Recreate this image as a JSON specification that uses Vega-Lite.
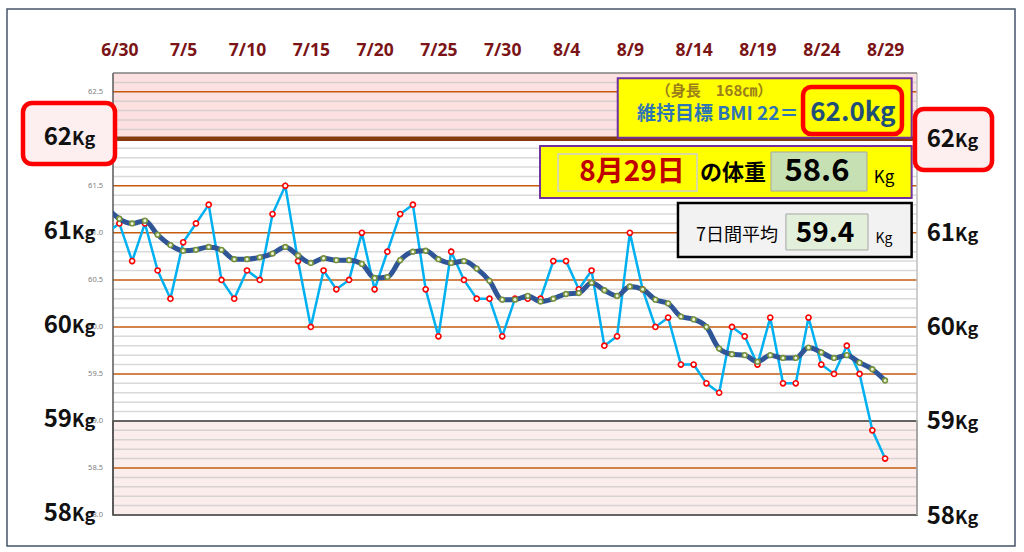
{
  "$schema": "https://vega.github.io/schema/vega-lite/v6.json",
  "width": 804,
  "height": 442,
  "autosize": "none",
  "padding": {"left": 113, "top": 73, "right": 107, "bottom": 37},
  "background": "white",
  "config": {"view": {"stroke": null}, "font": "Noto Sans CJK JP", "axisY": {"disable": true}, "axis": {"labelOverlap": false, "labelFlush": false}},
  "datasets": {
    "w": [
      {"day": -1, "date": "6/29", "weight": 61.0, "ma": 61.27},
      {"day": 0, "date": "6/30", "weight": 61.1, "ma": 61.15},
      {"day": 1, "date": "7/1", "weight": 60.7, "ma": 61.10},
      {"day": 2, "date": "7/2", "weight": 61.1, "ma": 61.13},
      {"day": 3, "date": "7/3", "weight": 60.6, "ma": 60.98},
      {"day": 4, "date": "7/4", "weight": 60.3, "ma": 60.87},
      {"day": 5, "date": "7/5", "weight": 60.9, "ma": 60.81},
      {"day": 6, "date": "7/6", "weight": 61.1, "ma": 60.82},
      {"day": 7, "date": "7/7", "weight": 61.3, "ma": 60.85},
      {"day": 8, "date": "7/8", "weight": 60.5, "ma": 60.82},
      {"day": 9, "date": "7/9", "weight": 60.3, "ma": 60.72},
      {"day": 10, "date": "7/10", "weight": 60.6, "ma": 60.72},
      {"day": 11, "date": "7/11", "weight": 60.5, "ma": 60.74},
      {"day": 12, "date": "7/12", "weight": 61.2, "ma": 60.78},
      {"day": 13, "date": "7/13", "weight": 61.5, "ma": 60.85},
      {"day": 14, "date": "7/14", "weight": 60.7, "ma": 60.76},
      {"day": 15, "date": "7/15", "weight": 60.0, "ma": 60.68},
      {"day": 16, "date": "7/16", "weight": 60.6, "ma": 60.73},
      {"day": 17, "date": "7/17", "weight": 60.4, "ma": 60.71},
      {"day": 18, "date": "7/18", "weight": 60.5, "ma": 60.71},
      {"day": 19, "date": "7/19", "weight": 61.0, "ma": 60.67},
      {"day": 20, "date": "7/20", "weight": 60.4, "ma": 60.52},
      {"day": 21, "date": "7/21", "weight": 60.8, "ma": 60.53},
      {"day": 22, "date": "7/22", "weight": 61.2, "ma": 60.71},
      {"day": 23, "date": "7/23", "weight": 61.3, "ma": 60.80},
      {"day": 24, "date": "7/24", "weight": 60.4, "ma": 60.81},
      {"day": 25, "date": "7/25", "weight": 59.9, "ma": 60.72},
      {"day": 26, "date": "7/26", "weight": 60.8, "ma": 60.68},
      {"day": 27, "date": "7/27", "weight": 60.5, "ma": 60.70},
      {"day": 28, "date": "7/28", "weight": 60.3, "ma": 60.62},
      {"day": 29, "date": "7/29", "weight": 60.3, "ma": 60.49},
      {"day": 30, "date": "7/30", "weight": 59.9, "ma": 60.29},
      {"day": 31, "date": "7/31", "weight": 60.3, "ma": 60.29},
      {"day": 32, "date": "8/1", "weight": 60.3, "ma": 60.33},
      {"day": 33, "date": "8/2", "weight": 60.3, "ma": 60.27},
      {"day": 34, "date": "8/3", "weight": 60.7, "ma": 60.30},
      {"day": 35, "date": "8/4", "weight": 60.7, "ma": 60.35},
      {"day": 36, "date": "8/5", "weight": 60.4, "ma": 60.36},
      {"day": 37, "date": "8/6", "weight": 60.6, "ma": 60.47},
      {"day": 38, "date": "8/7", "weight": 59.8, "ma": 60.39},
      {"day": 39, "date": "8/8", "weight": 59.9, "ma": 60.33},
      {"day": 40, "date": "8/9", "weight": 61.0, "ma": 60.43},
      {"day": 41, "date": "8/10", "weight": 60.4, "ma": 60.40},
      {"day": 42, "date": "8/11", "weight": 60.0, "ma": 60.29},
      {"day": 43, "date": "8/12", "weight": 60.1, "ma": 60.25},
      {"day": 44, "date": "8/13", "weight": 59.6, "ma": 60.11},
      {"day": 45, "date": "8/14", "weight": 59.6, "ma": 60.08},
      {"day": 46, "date": "8/15", "weight": 59.4, "ma": 60.00},
      {"day": 47, "date": "8/16", "weight": 59.3, "ma": 59.77},
      {"day": 48, "date": "8/17", "weight": 60.0, "ma": 59.71},
      {"day": 49, "date": "8/18", "weight": 59.9, "ma": 59.70},
      {"day": 50, "date": "8/19", "weight": 59.6, "ma": 59.63},
      {"day": 51, "date": "8/20", "weight": 60.1, "ma": 59.70},
      {"day": 52, "date": "8/21", "weight": 59.4, "ma": 59.67},
      {"day": 53, "date": "8/22", "weight": 59.4, "ma": 59.67},
      {"day": 54, "date": "8/23", "weight": 60.1, "ma": 59.78},
      {"day": 55, "date": "8/24", "weight": 59.6, "ma": 59.73},
      {"day": 56, "date": "8/25", "weight": 59.5, "ma": 59.67},
      {"day": 57, "date": "8/26", "weight": 59.8, "ma": 59.70},
      {"day": 58, "date": "8/27", "weight": 59.5, "ma": 59.62},
      {"day": 59, "date": "8/28", "weight": 58.9, "ma": 59.55},
      {"day": 60, "date": "8/29", "weight": 58.6, "ma": 59.43}
    ],
    "minor": [
      {"v": 58.1}, {"v": 58.2}, {"v": 58.3}, {"v": 58.4}, {"v": 58.6}, {"v": 58.7}, {"v": 58.8}, {"v": 58.9},
      {"v": 59.1}, {"v": 59.2}, {"v": 59.3}, {"v": 59.4}, {"v": 59.6}, {"v": 59.7}, {"v": 59.8}, {"v": 59.9},
      {"v": 60.1}, {"v": 60.2}, {"v": 60.3}, {"v": 60.4}, {"v": 60.6}, {"v": 60.7}, {"v": 60.8}, {"v": 60.9},
      {"v": 61.1}, {"v": 61.2}, {"v": 61.3}, {"v": 61.4}, {"v": 61.6}, {"v": 61.7}, {"v": 61.8}, {"v": 61.9},
      {"v": 62.1}, {"v": 62.2}, {"v": 62.3}, {"v": 62.4}, {"v": 62.6}
    ],
    "major": [
      {"v": 58.5}, {"v": 59.5}, {"v": 60.0}, {"v": 60.5}, {"v": 61.0}, {"v": 61.5}, {"v": 62.5}
    ],
    "ticklabels": [
      {"t": "62.5", "v": 62.5}, {"t": "61.5", "v": 61.5}, {"t": "61.0", "v": 61.0},
      {"t": "60.5", "v": 60.5}, {"t": "60.0", "v": 60.0}, {"t": "59.5", "v": 59.5}, {"t": "59.0", "v": 59.0},
      {"t": "58.5", "v": 58.5}, {"t": "58.0", "v": 58.0}
    ],
    "kg": [
      {"n": "62", "v": 62}, {"n": "61", "v": 61}, {"n": "60", "v": 60}, {"n": "59", "v": 59}, {"n": "58", "v": 58}
    ]
  },
  "layer": [
    {
      "data": {"values": [{"x1": -8.806, "x2": 70.18, "y1": 57.67, "y2": 63.381}]},
      "mark": {"type": "rect", "fillOpacity": 0, "stroke": "#44546A", "strokeWidth": 1.5},
      "encoding": {
        "x": {"field": "x1", "type": "quantitative", "scale": {"domain": [-0.5, 62.5], "nice": false, "zero": false},
          "axis": {"orient": "top", "title": null, "values": [0, 5, 10, 15, 20, 25, 30, 35, 40, 45, 50, 55, 60],
            "labelExpr": "['6/30','7/5','7/10','7/15','7/20','7/25','7/30','8/4','8/9','8/14','8/19','8/24','8/29'][round(datum.value/5)]",
            "ticks": false, "domain": false, "grid": false, "labelPadding": 14, "labelFont": "Noto Sans", "labelFontSize": 17.5,
            "labelFontWeight": "bold", "labelColor": "#7B1416", "labelFlush": false, "labelOverlap": false}},
        "x2": {"field": "x2"},
        "y": {"field": "y1", "type": "quantitative", "scale": {"domain": [58, 62.7], "nice": false, "zero": false}, "axis": null},
        "y2": {"field": "y2"}
      }
    },
    {
      "data": {"values": [{"x1": -0.5, "x2": 62.5, "y1": 62, "y2": 62.7}]},
      "mark": {"type": "rect", "fill": "#FDE1E1"},
      "encoding": {
        "x": {"field": "x1", "type": "quantitative"}, "x2": {"field": "x2"},
        "y": {"field": "y1", "type": "quantitative"}, "y2": {"field": "y2"}
      }
    },
    {
      "data": {"values": [{"x1": -0.5, "x2": 62.5, "y1": 58, "y2": 59}]},
      "mark": {"type": "rect", "fill": "#FCEDED"},
      "encoding": {
        "x": {"field": "x1", "type": "quantitative"}, "x2": {"field": "x2"},
        "y": {"field": "y1", "type": "quantitative"}, "y2": {"field": "y2"}
      }
    },
    {
      "data": {"name": "minor"},
      "mark": {"type": "rule", "stroke": "#BFBFBF", "opacity": 0.6, "strokeWidth": 1.5},
      "encoding": {"y": {"field": "v", "type": "quantitative"}}
    },
    {
      "data": {"name": "major"},
      "mark": {"type": "rule", "stroke": "#C55A11", "strokeWidth": 1.5},
      "encoding": {"y": {"field": "v", "type": "quantitative"}}
    },
    {
      "data": {"values": [{"x1": -0.5, "x2": 62.5, "y1": 58, "y2": 59}]},
      "mark": {"type": "rect", "fillOpacity": 0, "stroke": "#333333", "strokeWidth": 1.5},
      "encoding": {
        "x": {"field": "x1", "type": "quantitative"}, "x2": {"field": "x2"},
        "y": {"field": "y1", "type": "quantitative"}, "y2": {"field": "y2"}
      }
    },
    {
      "data": {"values": [{"v": 62}]},
      "mark": {"type": "rule", "stroke": "#843C0C", "strokeWidth": 4.5},
      "encoding": {"y": {"field": "v", "type": "quantitative"}}
    },
    {
      "data": {"values": [{"v": -0.5}]},
      "mark": {"type": "rule", "stroke": "#595959", "strokeWidth": 1.5},
      "encoding": {"x": {"field": "v", "type": "quantitative"}}
    },
    {
      "data": {"values": [{"v": 62.5}]},
      "mark": {"type": "rule", "stroke": "#BFBFBF", "strokeWidth": 1.5},
      "encoding": {"x": {"field": "v", "type": "quantitative"}}
    },
    {
      "data": {"values": [{"v": 62.7}]},
      "mark": {"type": "rule", "stroke": "#7F7F7F", "strokeWidth": 1.5},
      "encoding": {"y": {"field": "v", "type": "quantitative"}}
    },
    {
      "data": {"name": "ticklabels"},
      "mark": {"type": "text", "font": "Noto Sans", "fontSize": 7.5, "fill": "#808080", "baseline": "middle", "align": "right"},
      "encoding": {"x": {"datum": -1.284, "type": "quantitative"}, "y": {"field": "v", "type": "quantitative"}, "text": {"field": "t"}}
    },
    {
      "data": {"name": "w"},
      "mark": {"type": "line", "stroke": "#00B0F0", "strokeWidth": 2.5, "clip": true},
      "encoding": {
        "x": {"field": "day", "type": "quantitative"},
        "y": {"field": "weight", "type": "quantitative"}
      }
    },
    {
      "data": {"name": "w"},
      "transform": [{"filter": "datum.day >= 0"}],
      "mark": {"type": "point", "shape": "circle", "filled": true, "fill": "white", "stroke": "#FF0000", "strokeWidth": 1.6, "size": 26, "opacity": 1},
      "encoding": {
        "x": {"field": "day", "type": "quantitative"},
        "y": {"field": "weight", "type": "quantitative"}
      }
    },
    {
      "data": {"name": "w"},
      "mark": {"type": "line", "stroke": "#2F5597", "strokeWidth": 5, "interpolate": "monotone", "clip": true},
      "encoding": {
        "x": {"field": "day", "type": "quantitative"},
        "y": {"field": "ma", "type": "quantitative"}
      }
    },
    {
      "data": {"name": "w"},
      "transform": [{"filter": "datum.day >= 0"}],
      "mark": {"type": "point", "shape": "circle", "filled": true, "fill": "#EEF3DC", "stroke": "#77933C", "strokeWidth": 1.6, "size": 22, "opacity": 1},
      "encoding": {
        "x": {"field": "day", "type": "quantitative"},
        "y": {"field": "ma", "type": "quantitative"}
      }
    },
    {
      "data": {"values": [{"x1": 39.05, "x2": 62.08, "y1": 62.012, "y2": 62.644}, {"x1": 32.96, "x2": 62.08, "y1": 61.371, "y2": 61.924}]},
      "mark": {"type": "rect", "fill": "#FFFF00", "stroke": "#7030A0", "strokeWidth": 2},
      "encoding": {
        "x": {"field": "x1", "type": "quantitative"}, "x2": {"field": "x2"},
        "y": {"field": "y1", "type": "quantitative"}, "y2": {"field": "y2"}
      }
    },
    {
      "data": {"values": [{"x1": 53.57, "x2": 61.32, "y1": 62.051, "y2": 62.551}]},
      "mark": {"type": "rect", "fill": "#FFFF00", "stroke": "#FF0000", "strokeWidth": 4.5, "cornerRadius": 8},
      "encoding": {
        "x": {"field": "x1", "type": "quantitative"}, "x2": {"field": "x2"},
        "y": {"field": "y1", "type": "quantitative"}, "y2": {"field": "y2"}
      }
    },
    {
      "data": {"values": [{"x1": 34.37, "x2": 45.26, "y1": 61.445, "y2": 61.839}]},
      "mark": {"type": "rect", "fill": "#FFFF00", "stroke": "#D0D0D0", "strokeWidth": 1.5},
      "encoding": {
        "x": {"field": "x1", "type": "quantitative"}, "x2": {"field": "x2"},
        "y": {"field": "y1", "type": "quantitative"}, "y2": {"field": "y2"}
      }
    },
    {
      "data": {"values": [{"x1": 51.06, "x2": 58.58, "y1": 61.445, "y2": 61.86}]},
      "mark": {"type": "rect", "fill": "#C6E0B4", "stroke": "#A6A6A6", "strokeWidth": 1},
      "encoding": {
        "x": {"field": "x1", "type": "quantitative"}, "x2": {"field": "x2"},
        "y": {"field": "y1", "type": "quantitative"}, "y2": {"field": "y2"}
      }
    },
    {
      "data": {"values": [{"x1": 43.77, "x2": 62.08, "y1": 60.743, "y2": 61.318}]},
      "mark": {"type": "rect", "fill": "#F2F2F2", "stroke": "#000000", "strokeWidth": 2.5},
      "encoding": {
        "x": {"field": "x1", "type": "quantitative"}, "x2": {"field": "x2"},
        "y": {"field": "y1", "type": "quantitative"}, "y2": {"field": "y2"}
      }
    },
    {
      "data": {"values": [{"x1": 52.23, "x2": 58.66, "y1": 60.818, "y2": 61.201}]},
      "mark": {"type": "rect", "fill": "#E2EFDA", "stroke": "#A6A6A6", "strokeWidth": 1},
      "encoding": {
        "x": {"field": "x1", "type": "quantitative"}, "x2": {"field": "x2"},
        "y": {"field": "y1", "type": "quantitative"}, "y2": {"field": "y2"}
      }
    },
    {
      "data": {"values": [{"x1": -7.552, "x2": -0.343, "y1": 61.732, "y2": 62.381}, {"x1": 62.34, "x2": 68.38, "y1": 61.669, "y2": 62.317}]},
      "mark": {"type": "rect", "fill": "#FDEFEF", "stroke": "#FF0000", "strokeWidth": 4.5, "cornerRadius": 9},
      "encoding": {
        "x": {"field": "x1", "type": "quantitative"}, "x2": {"field": "x2"},
        "y": {"field": "y1", "type": "quantitative"}, "y2": {"field": "y2"}
      }
    },
    {
      "data": {"values": [{"t": "（身長　168㎝）", "x": 46.59, "y": 62.509}]},
      "mark": {"type": "text", "fontSize": 15, "fontWeight": "bold", "fill": "#9C7F1A", "baseline": "middle", "align": "center"},
      "encoding": {"x": {"field": "x", "type": "quantitative"}, "y": {"field": "y", "type": "quantitative"}, "text": {"field": "t"}}
    },
    {
      "data": {"values": [{"t": "維持目標 BMI 22＝", "x": 40.56, "y": 62.264}]},
      "mark": {"type": "text", "fontSize": 19, "fontWeight": "bold", "fill": "#2E75B6", "baseline": "middle", "align": "left"},
      "encoding": {"x": {"field": "x", "type": "quantitative"}, "y": {"field": "y", "type": "quantitative"}, "text": {"field": "t"}}
    },
    {
      "data": {"values": [{"t": "62.0kg", "x": 57.48, "y": 62.275}]},
      "mark": {"type": "text", "fontSize": 26, "fontWeight": "bold", "fill": "#1F4E79", "baseline": "middle", "align": "center"},
      "encoding": {"x": {"field": "x", "type": "quantitative"}, "y": {"field": "y", "type": "quantitative"}, "text": {"field": "t"}}
    },
    {
      "data": {"values": [{"t": "8月29日", "x": 40.17, "y": 61.637}]},
      "mark": {"type": "text", "fontSize": 28, "fontWeight": "bold", "fill": "#C00000", "baseline": "middle", "align": "center"},
      "encoding": {"x": {"field": "x", "type": "quantitative"}, "y": {"field": "y", "type": "quantitative"}, "text": {"field": "t"}}
    },
    {
      "data": {"values": [{"t": "の体重", "x": 48.08, "y": 61.637}]},
      "mark": {"type": "text", "fontSize": 22, "fontWeight": "bold", "fill": "#000000", "baseline": "middle", "align": "center"},
      "encoding": {"x": {"field": "x", "type": "quantitative"}, "y": {"field": "y", "type": "quantitative"}, "text": {"field": "t"}}
    },
    {
      "data": {"values": [{"t": "58.6", "x": 54.66, "y": 61.647}]},
      "mark": {"type": "text", "fontSize": 31, "fontWeight": "bold", "fill": "#000000", "baseline": "middle", "align": "center"},
      "encoding": {"x": {"field": "x", "type": "quantitative"}, "y": {"field": "y", "type": "quantitative"}, "text": {"field": "t"}}
    },
    {
      "data": {"values": [{"t": "Kg", "x": 59.91, "y": 61.583}]},
      "mark": {"type": "text", "fontSize": 17, "fill": "#000000", "baseline": "middle", "align": "center"},
      "encoding": {"x": {"field": "x", "type": "quantitative"}, "y": {"field": "y", "type": "quantitative"}, "text": {"field": "t"}}
    },
    {
      "data": {"values": [{"t": "7日間平均", "x": 48.4, "y": 60.967}]},
      "mark": {"type": "text", "fontSize": 18, "fill": "#000000", "baseline": "middle", "align": "center"},
      "encoding": {"x": {"field": "x", "type": "quantitative"}, "y": {"field": "y", "type": "quantitative"}, "text": {"field": "t"}}
    },
    {
      "data": {"values": [{"t": "59.4", "x": 55.29, "y": 60.988}]},
      "mark": {"type": "text", "fontSize": 28, "fontWeight": "bold", "fill": "#000000", "baseline": "middle", "align": "center"},
      "encoding": {"x": {"field": "x", "type": "quantitative"}, "y": {"field": "y", "type": "quantitative"}, "text": {"field": "t"}}
    },
    {
      "data": {"values": [{"t": "Kg", "x": 59.91, "y": 60.935}]},
      "mark": {"type": "text", "fontSize": 14, "fill": "#000000", "baseline": "middle", "align": "center"},
      "encoding": {"x": {"field": "x", "type": "quantitative"}, "y": {"field": "y", "type": "quantitative"}, "text": {"field": "t"}}
    },
    {
      "data": {"name": "kg"},
      "mark": {"type": "text", "fontSize": 24, "fontWeight": "bold", "fill": "#111111", "baseline": "alphabetic", "align": "right", "dy": 6},
      "encoding": {"x": {"datum": -3.71, "type": "quantitative"}, "y": {"field": "v", "type": "quantitative"}, "text": {"field": "n"}}
    },
    {
      "data": {"name": "kg"},
      "mark": {"type": "text", "text": "Kg", "fontSize": 18, "fontWeight": "bold", "fill": "#111111", "baseline": "alphabetic", "align": "left", "dy": 6},
      "encoding": {"x": {"datum": -3.71, "type": "quantitative"}, "y": {"field": "v", "type": "quantitative"}}
    },
    {
      "data": {"name": "kg"},
      "mark": {"type": "text", "fontSize": 24, "fontWeight": "bold", "fill": "#111111", "baseline": "alphabetic", "align": "right", "dy": 8.5},
      "encoding": {"x": {"datum": 65.48, "type": "quantitative"}, "y": {"field": "v", "type": "quantitative"}, "text": {"field": "n"}}
    },
    {
      "data": {"name": "kg"},
      "mark": {"type": "text", "text": "Kg", "fontSize": 18, "fontWeight": "bold", "fill": "#111111", "baseline": "alphabetic", "align": "left", "dy": 8.5},
      "encoding": {"x": {"datum": 65.48, "type": "quantitative"}, "y": {"field": "v", "type": "quantitative"}}
    }
  ]
}
